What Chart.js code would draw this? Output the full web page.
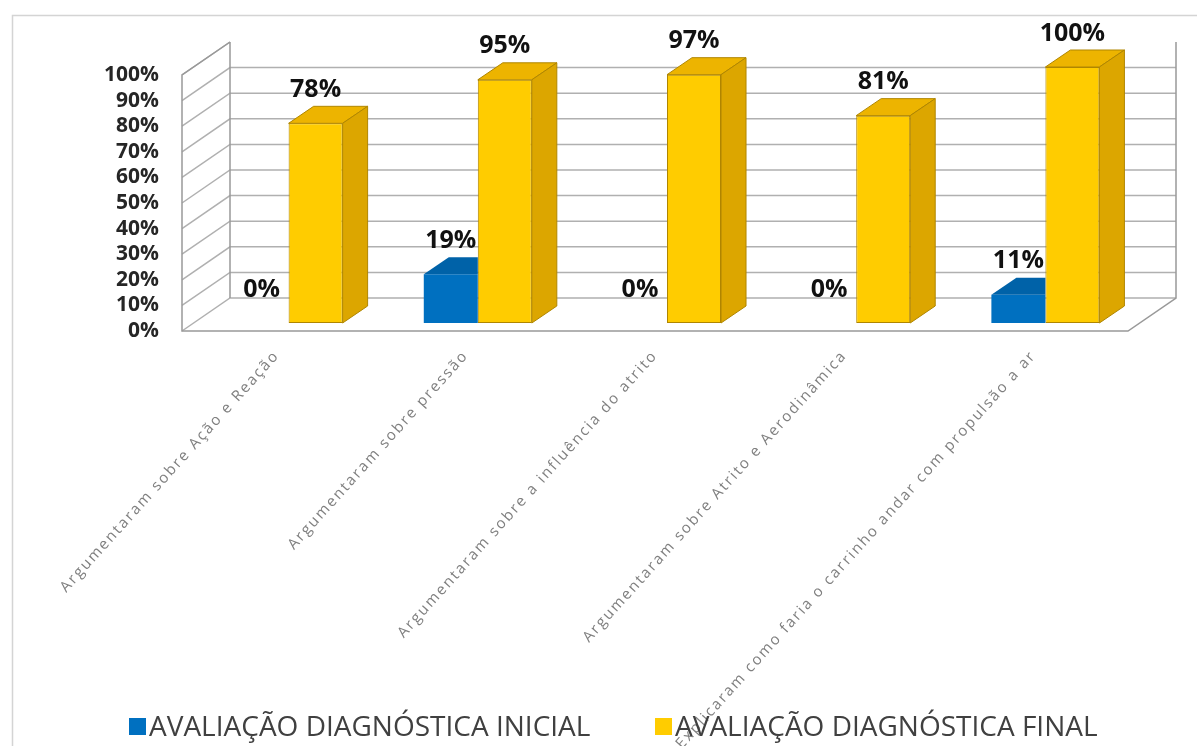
<!DOCTYPE html>
<html>
<head>
<meta charset="utf-8">
<script src="https://cdn.jsdelivr.net/npm/chart.js@4.4.1/dist/chart.umd.min.js"></script>
<style>
  html, body { margin: 0; padding: 0; background: #fff; }
</style>
</head>
<body>
<canvas id="grafico" width="1197" height="746"></canvas>
<script>
const categorias = [
  "Argumentaram sobre Ação e Reação",
  "Argumentaram sobre pressão",
  "Argumentaram sobre a influência do atrito",
  "Argumentaram sobre Atrito e Aerodinâmica",
  "Explicaram como faria o carrinho andar com propulsão a ar"
];
const inicial = [0, 19, 0, 0, 11];
const final = [78, 95, 97, 81, 100];
const nomesSeries = ["AVALIAÇÃO DIAGNÓSTICA INICIAL", "AVALIAÇÃO DIAGNÓSTICA FINAL"];
const yMax = 100;
const yPasso = 10;

const coresFrente = ["#0070C0", "#FFCC00"];
const coresTopo = ["#0062A8", "#EDB400"];
const coresLado = ["#00528C", "#DCA600"];
const coresBorda = ["#0066B0", "#B08600"];

const desloc = { x: 12, y: -8 };   // barras no meio da profundidade
const prof = { x: 25, y: -17 };    // profundidade de cada barra
const parede = { x: 48, y: -33 };  // profundidade das paredes

const moldura = {
  id: "moldura",
  beforeDraw(chart) {
    const ctx = chart.ctx;
    ctx.save();
    ctx.fillStyle = "#fff";
    ctx.fillRect(0, 0, chart.width, chart.height);
    ctx.strokeStyle = "#d4d4d4";
    ctx.lineWidth = 1.5;
    ctx.beginPath();
    ctx.moveTo(12.5, chart.height);
    ctx.lineTo(12.5, 15.5);
    ctx.lineTo(chart.width, 15.5);
    ctx.stroke();
    ctx.restore();
  }
};

const efeito3d = {
  id: "efeito3d",
  beforeDatasetsDraw(chart) {
    const { ctx, chartArea: a, scales: { y } } = chart;
    const B = y.getPixelForValue(0), T = y.getPixelForValue(yMax);
    ctx.save();
    ctx.strokeStyle = "#b0b0b0";
    ctx.lineWidth = 1.5;
    y.ticks.forEach(t => {
      const py = y.getPixelForValue(t.value);
      ctx.beginPath();
      ctx.moveTo(a.left, py);
      ctx.lineTo(a.left + parede.x, py + parede.y);
      if (t.value < yMax) ctx.lineTo(a.right + parede.x, py + parede.y);
      ctx.stroke();
    });
    ctx.strokeStyle = "#999";
    ctx.beginPath();
    ctx.moveTo(a.left + parede.x, T + parede.y);
    ctx.lineTo(a.left, T);
    ctx.lineTo(a.left, B);
    ctx.lineTo(a.right, B);
    ctx.lineTo(a.right + parede.x, B + parede.y);
    ctx.lineTo(a.right + parede.x, T + parede.y);
    ctx.moveTo(a.left + parede.x, T + parede.y);
    ctx.lineTo(a.left + parede.x, B + parede.y);
    ctx.stroke();
    ctx.restore();

    ctx.save();
    ctx.translate(desloc.x, desloc.y);
  },
  afterDatasetsDraw(chart) {
    const ctx = chart.ctx;
    const n = chart.data.datasets.length;
    const rotulos = [];
    chart.data.datasets.forEach((ds, di) => {
      const meta = chart.getDatasetMeta(di);
      const ultimo = di === n - 1;
      meta.data.forEach((bar, i) => {
        const { x, y, width } = bar.getProps(["x", "y", "width"], true);
        const base = bar.getProps(["base"], true).base;
        rotulos.push({ x: x + desloc.x, y: y + desloc.y + prof.y, txt: ds.data[i] + "%" });
        if (!ds.data[i]) return;
        const l = x - width / 2, r = x + width / 2;
        ctx.lineWidth = 1;
        ctx.strokeStyle = coresBorda[di];
        // topo
        ctx.beginPath();
        ctx.moveTo(l, y);
        ctx.lineTo(r, y);
        ctx.lineTo(ultimo ? r + prof.x : r, y + prof.y);
        ctx.lineTo(l + prof.x, y + prof.y);
        ctx.closePath();
        ctx.fillStyle = coresTopo[di];
        ctx.fill();
        if (ultimo) ctx.stroke();
        // lado
        if (ultimo) {
          ctx.beginPath();
          ctx.moveTo(r, y);
          ctx.lineTo(r + prof.x, y + prof.y);
          ctx.lineTo(r + prof.x, base + prof.y);
          ctx.lineTo(r, base);
          ctx.closePath();
          ctx.fillStyle = coresLado[di];
          ctx.fill();
          ctx.stroke();
        }
      });
    });
    ctx.restore();

    ctx.save();
    ctx.fillStyle = "#111";
    ctx.font = "bold 25px 'Open Sans'";
    ctx.textAlign = "center";
    ctx.textBaseline = "bottom";
    rotulos.forEach(p => ctx.fillText(p.txt, p.x, p.y - 4));
    ctx.restore();
    ctx.letterSpacing = "2px";
  },
  afterDraw(chart) {
    const ctx = chart.ctx;
    ctx.letterSpacing = "0px";
    ctx.save();
    ctx.font = "28px 'Open Sans'";
    ctx.textBaseline = "alphabetic";
    ctx.textAlign = "left";
    const posicoes = [129, 655];
    chart.data.datasets.forEach((ds, di) => {
      const x0 = posicoes[di];
      ctx.fillStyle = coresFrente[di];
      ctx.fillRect(x0, 718, 17, 17);
      ctx.fillStyle = "#404040";
      ctx.fillText(ds.label, x0 + 20, 736);
    });
    ctx.restore();
  }
};

new Chart(document.getElementById("grafico"), {
  type: "bar",
  data: {
    labels: categorias,
    datasets: [
      {
        label: nomesSeries[0],
        data: inicial,
        backgroundColor: coresFrente[0],
        borderWidth: 0,
        categoryPercentage: 0.571,
        barPercentage: 1
      },
      {
        label: nomesSeries[1],
        data: final,
        backgroundColor: coresFrente[1],
        borderColor: coresBorda[1],
        borderWidth: 1,
        borderSkipped: false,
        categoryPercentage: 0.571,
        barPercentage: 1
      }
    ]
  },
  options: {
    responsive: false,
    animation: false,
    layout: { padding: { top: 75, right: 69, bottom: 0, left: 0 } },
    plugins: {
      legend: { display: false },
      tooltip: { enabled: false }
    },
    scales: {
      x: {
        grid: { display: false },
        border: { display: false },
        ticks: {
          z: 1,
          autoSkip: false,
          minRotation: 48,
          maxRotation: 48,
          padding: 8,
          color: "#808080",
          font: { family: "'Open Sans'", size: 15 }
        },
        afterFit: s => { s.height = 415; }
      },
      y: {
        min: 0,
        max: yMax,
        grid: { display: false },
        border: { display: false },
        ticks: {
          stepSize: yPasso,
          autoSkip: false,
          padding: 15,
          color: "#262626",
          font: { family: "'Open Sans'", size: 21, weight: "bold", lineHeight: 1 },
          callback: v => v + "%"
        },
        afterFit: s => { s.width = 182; }
      }
    }
  },
  plugins: [moldura, efeito3d]
});
</script>
</body>
</html>
